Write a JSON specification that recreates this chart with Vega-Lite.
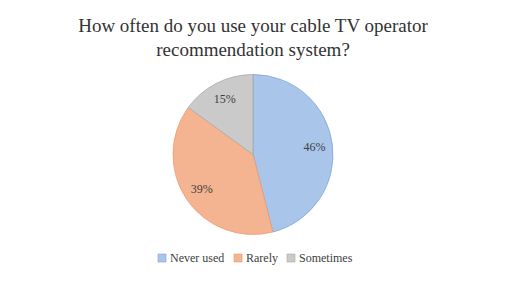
{
  "$schema": "https://vega.github.io/schema/vega-lite/v6.json",
  "width": 506,
  "height": 257,
  "autosize": "none",
  "padding": {"top": 26, "left": 0, "right": 2, "bottom": 0},
  "background": "#ffffff",
  "config": {"view": {"stroke": null}, "font": "Liberation Serif"},
  "title": {
    "text": ["How often do you use your cable TV operator", "recommendation system?"],
    "font": "Liberation Serif",
    "fontSize": 19,
    "fontWeight": "normal",
    "color": "#333333",
    "lineHeight": 24,
    "anchor": "middle",
    "offset": -34
  },
  "data": {
    "values": [
      {"category": "Never used", "share": 0.46},
      {"category": "Rarely", "share": 0.39},
      {"category": "Sometimes", "share": 0.15}
    ]
  },
  "encoding": {
    "theta": {"field": "share", "type": "quantitative", "stack": true}
  },
  "layer": [
    {
      "mark": {"type": "arc", "outerRadius": 80, "strokeWidth": 0.8},
      "encoding": {
        "color": {
          "field": "category",
          "type": "nominal",
          "sort": ["Never used", "Rarely", "Sometimes"],
          "scale": {"domain": ["Never used", "Rarely", "Sometimes"], "range": ["#a9c5e9", "#f5b491", "#cacaca"]},
          "legend": {
            "title": null,
            "orient": "none",
            "direction": "horizontal",
            "legendX": 156,
            "legendY": 226,
            "symbolType": "square",
            "symbolSize": 64,
            "symbolStrokeWidth": 0.6,
            "labelFont": "Liberation Serif",
            "labelFontSize": 12,
            "labelColor": "#404040",
            "labelOffset": 2,
            "columnPadding": 7
          }
        },
        "stroke": {
          "field": "category",
          "type": "nominal",
          "scale": {"domain": ["Never used", "Rarely", "Sometimes"], "range": ["#7fa6dc", "#ef9a70", "#a8a8a8"]},
          "legend": null
        },
        "order": {"field": "share", "type": "quantitative", "sort": "descending"}
      }
    },
    {
      "mark": {"type": "text", "radius": 62, "font": "Liberation Serif", "fontSize": 12, "fill": "#404040"},
      "encoding": {
        "text": {"field": "share", "type": "quantitative", "format": ".0%"},
        "order": {"field": "share", "type": "quantitative", "sort": "descending"}
      }
    }
  ]
}
